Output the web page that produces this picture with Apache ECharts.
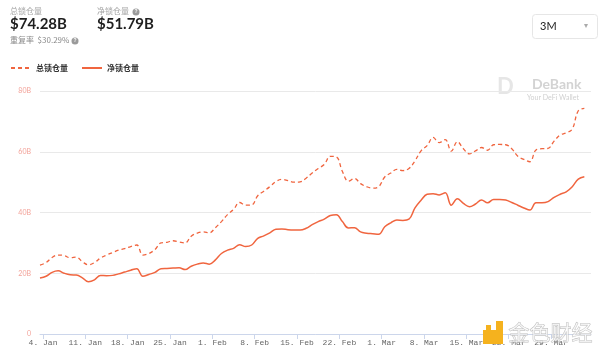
<!DOCTYPE html>
<html><head><meta charset="utf-8">
<script src="https://cdn.jsdelivr.net/npm/echarts@6/dist/echarts.min.js"></script>
<style>html,body{margin:0;padding:0;background:#fff}#c{width:600px;height:357px}</style>
</head><body><div id="c"></div>
<script>
// day offsets relative to 4 Jan 00:00 (first point = 3 Jan noon)
const startOffset = -0.5;
const totalLocked = [22.7,23.5,25.2,26.0,25.8,25.1,25.3,23.8,22.8,23.5,25.0,26.0,26.8,27.6,28.1,28.8,29.3,26.0,26.5,27.8,30.0,30.2,30.7,30.3,30.0,32.2,33.2,33.6,33.3,35.0,37.0,39.3,41.0,43.3,42.4,42.5,45.5,47.0,48.5,50.2,50.9,50.5,50.0,50.1,51.3,53.0,54.5,55.8,58.5,58.3,53.5,50.3,51.2,49.5,48.5,48.0,48.5,51.7,53.0,54.2,53.8,54.5,57.0,60.3,62.0,64.7,63.0,64.0,60.2,63.3,61.0,59.3,60.3,61.4,60.5,62.3,62.4,62.3,61.0,58.5,57.5,56.7,60.6,61.0,61.1,63.5,65.5,66.2,67.5,73.5,74.28];
const netLocked = [18.4,19.0,20.3,20.8,20.0,19.5,19.4,18.5,17.2,17.8,19.3,19.2,19.3,19.8,20.4,21.0,21.5,19.0,19.6,20.3,21.5,21.6,21.7,21.8,21.2,22.3,23.0,23.4,23.0,24.4,26.5,27.6,28.2,29.4,28.8,29.3,31.5,32.3,33.3,34.5,34.6,34.3,34.2,34.2,34.8,36.0,37.0,37.8,39.0,39.3,37.0,34.9,35.0,33.6,33.2,33.0,32.8,35.3,36.6,37.5,37.4,37.8,41.5,44.0,46.0,46.2,45.8,46.5,42.4,44.5,43.0,41.9,42.8,44.1,43.2,44.3,44.3,44.1,43.3,42.4,41.5,40.8,43.2,43.2,43.6,45.0,46.0,46.8,48.5,51.0,51.79];
const tickDays = [0,7,14,21,28,35,42,49,56,63,70,77,84];
const tickLabels = ['4. Jan','11. Jan','18. Jan','25. Jan','1. Feb','8. Feb','15. Feb','22. Feb','1. Mar','8. Mar','15. Mar','22. Mar','29. Mar'];
const yTicks = [0,20,40,60,80];
const seriesNames = ['总锁仓量','净锁仓量'];

const toPts = arr => arr.map((v,i)=>[startOffset+i, v]);
const lineColor = '#f0653f';
const cjk = '"Noto Sans CJK SC", sans-serif';

const chart = echarts.init(document.getElementById('c'), null, {renderer:'canvas'});
chart.setOption({
  animation:false,
  backgroundColor:'#fff',
  grid:{left:40, right:9, top:91, bottom:23, containLabel:false},
  legend:{
    left:10, top:64, padding:0, itemWidth:20, itemHeight:10, itemGap:13,
    itemStyle:{opacity:0},
    textStyle:{fontSize:8, color:'#333', fontFamily:cjk, fontWeight:'bold'},
    data:seriesNames
  },
  xAxis:{
    type:'value', min:startOffset, max:90.6,
    axisLine:{show:true, lineStyle:{color:'#ccd6eb', width:1}},
    axisTick:{show:true, length:5, lineStyle:{color:'#ccd6eb'}, customValues:tickDays},
    axisLabel:{show:true, customValues:tickDays, fontSize:8, color:'#666', margin:5,
      fontFamily:'"Liberation Mono", "DejaVu Sans Mono", monospace',
      formatter:v=>{const k=tickDays.indexOf(Math.round(v)); return k>=0?tickLabels[k]:'';}},
    splitLine:{show:false}
  },
  yAxis:{
    type:'value', min:0, max:80, interval:20,
    axisLine:{show:false}, axisTick:{show:false},
    axisLabel:{fontSize:7, color:'#f3a39a', margin:9, fontFamily:'Lato, sans-serif',
      formatter:v=>v===0?'0':v+'B'},
    splitLine:{lineStyle:{color:'#e9e9e9', width:1}}
  },
  series:[
    {name:seriesNames[0], type:'line', data:toPts(totalLocked), showSymbol:false, symbol:'none', smooth:0.4,
     lineStyle:{color:lineColor, width:1.3, type:[4,3]}, itemStyle:{color:lineColor}},
    {name:seriesNames[1], type:'line', data:toPts(netLocked), showSymbol:false, symbol:'none', smooth:0.4,
     lineStyle:{color:lineColor, width:1.5}, itemStyle:{color:lineColor}}
  ],
  graphic:[
    // header
    {type:'text', left:10, top:7, style:{text:'总锁仓量', fontSize:8, fill:'#a5a5a5', fontFamily:cjk}},
    {type:'text', left:10, top:17, style:{text:'$74.28B', fontSize:15, fontWeight:'bold', fill:'#1e1e1e', fontFamily:'Lato, sans-serif'}},
    {type:'text', left:10, top:36, style:{text:'重复率  $30.29%', fontSize:8, fill:'#8a8a8a', fontFamily:cjk}},
    {type:'circle', shape:{cx:75, cy:41, r:3.5}, style:{fill:'#9a9a9a'}},
    {type:'text', x:75, y:41, style:{text:'?', fontSize:5, fill:'#fff', align:'center', verticalAlign:'middle', fontWeight:'bold'}},
    {type:'text', left:97, top:7, style:{text:'净锁仓量', fontSize:8, fill:'#a5a5a5', fontFamily:cjk}},
    {type:'circle', shape:{cx:136, cy:12, r:3.5}, style:{fill:'#9a9a9a'}},
    {type:'text', x:136, y:12, style:{text:'?', fontSize:5, fill:'#fff', align:'center', verticalAlign:'middle', fontWeight:'bold'}},
    {type:'text', left:97, top:17, style:{text:'$51.79B', fontSize:15, fontWeight:'bold', fill:'#1e1e1e', fontFamily:'Lato, sans-serif'}},
    // 3M selector
    {type:'rect', shape:{x:532.5, y:14.5, width:65, height:24, r:3}, style:{fill:'#fff', stroke:'#e6e6e6', lineWidth:1}},
    {type:'text', left:540, top:21, style:{text:'3M', fontSize:11, fill:'#222', fontFamily:'Lato, sans-serif'}},
    {type:'text', left:584, top:22, style:{text:'▾', fontSize:8, fill:'#aaa'}},
    // DeBank watermark
    {type:'text', left:497, top:76, style:{text:'D', fontSize:22, fontWeight:'bold', fill:'#e6e6e6', fontFamily:'Lato, sans-serif'}},
    {type:'text', left:532, top:77, style:{text:'DeBank', fontSize:14, fontWeight:'bold', fill:'#d3d3d3', fontFamily:'Lato, sans-serif'}},
    {type:'text', left:527, top:94, style:{text:'Your DeFi Wallet', fontSize:7, fill:'#d0d0d0', fontFamily:'Lato, sans-serif'}},
    // 金色财经 watermark
    {type:'rect', z:100, shape:{x:483, y:330, width:20, height:14}, style:{fill:'#f5b21e'}},
    {type:'rect', z:100, shape:{x:496, y:321, width:7, height:12}, style:{fill:'#f5b21e'}},
    {type:'rect', z:101, shape:{x:486, y:325, width:5, height:5}, style:{fill:'#f5b21e'}},
    {type:'text', z:100, left:508, top:321, style:{text:'金色财经', fontSize:21, fill:'rgba(255,255,255,0.6)', stroke:'#bbbbbb', lineWidth:0.8, fontFamily:cjk}}
  ]
});
</script></body></html>
